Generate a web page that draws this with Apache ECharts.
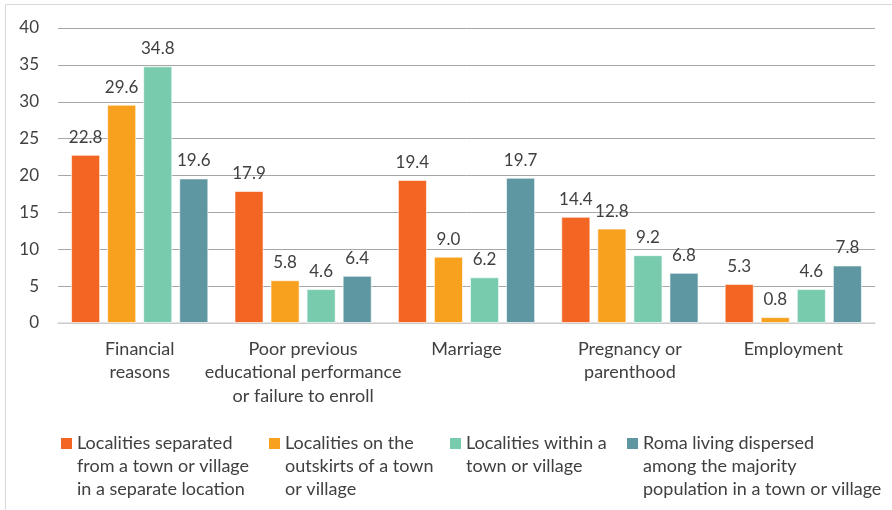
<!DOCTYPE html>
<html>
<head>
<meta charset="utf-8">
<script src="https://cdn.jsdelivr.net/npm/echarts@6/dist/echarts.min.js"></script>
<style>
  html, body { margin: 0; padding: 0; background: #fff; }
  #chart { width: 892px; height: 510px; }
</style>
</head>
<body>
<div id="chart"></div>
<script>
// Reasons for leaving school, by type of Roma locality (%)
const categories = [
  'Financial\nreasons',
  'Poor previous\neducational performance\nor failure to enroll',
  'Marriage',
  'Pregnancy or\nparenthood',
  'Employment'
];

const seriesNames = [
  'Localities separated\nfrom a town or village\nin a separate location',
  'Localities on the\noutskirts of a town\nor village',
  'Localities within a\ntown or village',
  'Roma living dispersed\namong the majority\npopulation in a town or village'
];

const separatedValues = [22.8, 17.9, 19.4, 14.4, 5.3];
const outskirtsValues = [29.6, 5.8, 9.0, 12.8, 0.8];
const withinValues    = [34.8, 4.6, 6.2, 9.2, 4.6];
const dispersedValues = [19.6, 6.4, 19.7, 6.8, 7.8];

const yTicks = { min: 0, max: 40, interval: 5 };

const colors = ['#F26522', '#F8A11E', '#79CBAE', '#5E97A1'];
const FONT = 'Lato';
const TEXT = '#404040';

const allValues = [separatedValues, outskirtsValues, withinValues, dispersedValues];

const series = allValues.map((vals, i) => ({
  name: seriesNames[i],
  type: 'bar',
  data: vals,
  barGap: '24%',
  barCategoryGap: '16%',
  itemStyle: { color: colors[i], borderColor: 'rgba(255,255,255,0.6)', borderWidth: 1 },
  label: {
    show: true,
    position: 'top',
    distance: 9,
    color: TEXT,
    fontFamily: FONT,
    fontSize: 17,
    formatter: p => p.value.toFixed(1)
  }
}));

// One legend block per series so each can sit at its own x position.
// The swatch path is padded downward with an empty move-to so that,
// once centred on the wrapped text, the square lines up with the first line.
const legendLeft = [61, 269, 450, 627];
const lineH = 23;
const sq = 11;
const legends = seriesNames.map((name, i) => {
  const lines = name.split('\n').length;
  const h = sq + (lines - 1) * lineH;
  return {
    data: [{ name: name, icon: `path://M0,0L${sq},0L${sq},${sq}L0,${sq}Z M0,${h}L0.01,${h}` }],
    left: legendLeft[i],
    top: 432,
    padding: 0,
    orient: 'horizontal',
    itemWidth: sq,
    itemHeight: h,
    itemGap: 0,
    selectedMode: false,
    itemStyle: { borderWidth: 0 },
    textStyle: {
      color: TEXT,
      fontFamily: FONT,
      fontSize: 18,
      lineHeight: lineH
    }
  };
});

const chart = echarts.init(document.getElementById('chart'), null, { renderer: 'canvas' });
chart.setOption({
  animation: false,
  backgroundColor: '#fff',
  color: colors,
  graphic: [{
    type: 'rect',
    shape: { x: 5.5, y: 4.5, width: 900, height: 520 },
    style: { fill: 'none', stroke: '#d9d9d9', lineWidth: 1 },
    silent: true,
    z: -10
  }],
  grid: { left: 58, right: 17, top: 28, bottom: 187, containLabel: false },
  legend: legends,
  xAxis: {
    type: 'category',
    data: categories,
    axisLine: { lineStyle: { color: '#d9d9d9', width: 1.5 } },
    axisTick: { show: false },
    axisLabel: {
      color: TEXT,
      fontFamily: FONT,
      fontSize: 18,
      lineHeight: 23.5,
      margin: 14,
      interval: 0
    }
  },
  yAxis: {
    type: 'value',
    min: yTicks.min,
    max: yTicks.max,
    interval: yTicks.interval,
    axisLine: { show: false },
    axisTick: { show: false },
    axisLabel: { color: TEXT, fontFamily: FONT, fontSize: 17, margin: 19 },
    splitLine: { lineStyle: { color: '#a6a6a6', width: 1 } }
  },
  series: series
});
</script>
</body>
</html>
